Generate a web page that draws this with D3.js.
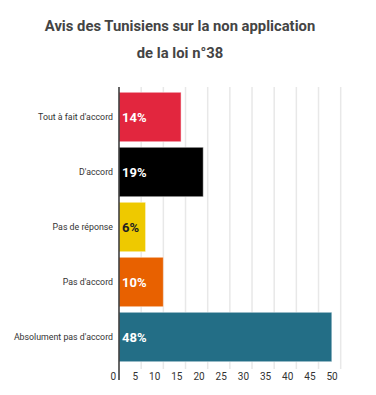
<!DOCTYPE html>
<html><head><meta charset="utf-8">
<script src="https://cdn.jsdelivr.net/npm/d3@7"></script>
<style>body{margin:0;background:#fff;}svg{display:block;font-family:Roboto,sans-serif;}</style>
</head><body>
<svg id="c" width="376" height="395"></svg>
<script>
const titleLines = ["Avis des Tunisiens sur la non application", "de la loi n°38"];
const categories = ["Tout à fait d'accord", "D'accord", "Pas de réponse", "Pas d'accord", "Absolument pas d'accord"];
const values = [14, 19, 6, 10, 48];
const valueLabels = ["14%", "19%", "6%", "10%", "48%"];
const colors = ["#e2263e", "#000000", "#eec900", "#e86100", "#236e86"];
const labelColors = ["#ffffff", "#ffffff", "#222222", "#ffffff", "#ffffff"];
const ticks = [0, 5, 10, 15, 20, 25, 30, 35, 40, 45, 50];

const svg = d3.select("#c");
const x = d3.scaleLinear().domain([0, 50]).range([119, 340.7]);
const y = d3.scaleBand().domain(categories).range([89.5, 364.5]).paddingInner(0.1).paddingOuter(0.05);

svg.selectAll("text.title").data(titleLines).join("text")
  .attr("x", 180).attr("y", (d, i) => 30.5 + i * 27)
  .attr("text-anchor", "middle").attr("font-weight", "bold").attr("font-size", 14.8)
  .attr("fill", "#444").text(d => d);

// grid
svg.selectAll("line.grid").data(ticks.slice(1)).join("line")
  .attr("x1", d => x(d)).attr("x2", d => x(d))
  .attr("y1", 87).attr("y2", 369)
  .attr("stroke", "#e8e8e8").attr("stroke-width", 1.5);

// bars
svg.selectAll("rect.bar").data(values).join("rect")
  .attr("x", x(0)).attr("y", (d, i) => y(categories[i]))
  .attr("width", d => x(d) - x(0)).attr("height", y.bandwidth())
  .attr("fill", (d, i) => colors[i])
  .attr("stroke", "rgba(255,255,255,0.5)").attr("stroke-width", 1);

// axis line
svg.append("line").attr("x1", x(0)).attr("x2", x(0)).attr("y1", 87).attr("y2", 380)
  .attr("stroke", "#333").attr("stroke-width", 1.5);

// tick labels
svg.selectAll("text.tick").data(ticks).join("text")
  .attr("x", d => x(d) - 3).attr("y", 379.5)
  .attr("text-anchor", "end").attr("font-size", 10).attr("fill", "#333")
  .text(d => d);

// category labels
svg.selectAll("text.cat").data(categories).join("text")
  .attr("x", 113).attr("y", d => y(d) + y.bandwidth() / 2)
  .attr("dy", "0.35em").attr("text-anchor", "end").attr("font-size", 8.8).attr("fill", "#333")
  .text(d => d);

// value labels
svg.selectAll("text.val").data(valueLabels).join("text")
  .attr("x", 122).attr("y", (d, i) => y(categories[i]) + y.bandwidth() / 2)
  .attr("dy", "0.36em").attr("font-size", 13).attr("font-weight", "bold")
  .attr("fill", (d, i) => labelColors[i]).text(d => d);
</script>
</body></html>
